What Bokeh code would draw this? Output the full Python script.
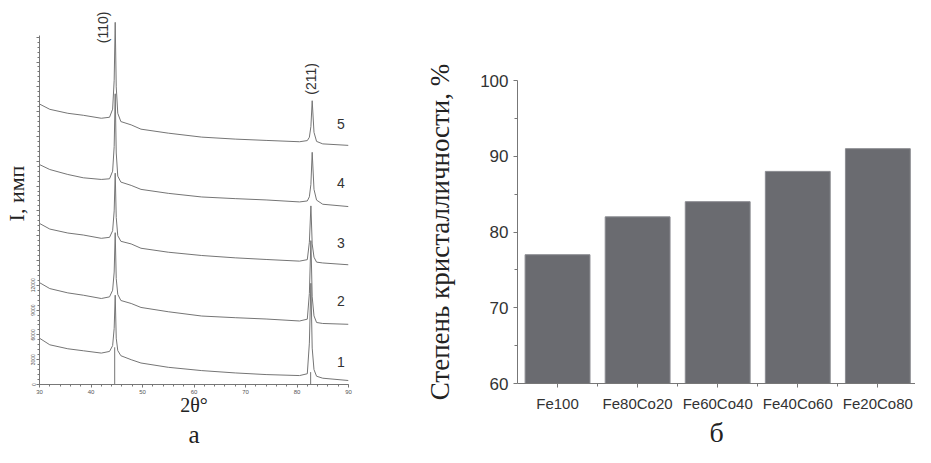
from bokeh.plotting import figure
from bokeh.layouts import row, column
from bokeh.models import Range1d, FixedTicker
from bokeh.core.properties import value
from bokeh.embed import file_html
from bokeh.resources import INLINE
import math

# ---------------- data: XRD patterns (panel а) ----------------
two_theta = [30, 32, 35.5, 38.5, 42, 43.6, 44.2, 44.5, 44.7, 44.9, 45.2, 45.8,
             47.8, 49.7, 55, 61.5, 68, 74, 80.5,
             82.0, 82.4, 82.7, 82.95, 83.3, 83.8, 85.0, 90]

curve_1 = [5600, 4800, 4320, 4080, 3800, 4000, 4700, 6800, 10800, 5600, 4100, 3480,
           3000, 2600, 2080, 1680, 1400, 1200, 1080,
           1300, 5000, 12240, 4400, 1800, 1000, 760, 480]
curve_2 = [12320, 11600, 11080, 10800, 10400, 10600, 11400, 13600, 18360, 12800, 10900, 10160,
           9800, 9320, 8800, 8280, 8080, 7920, 7680,
           7900, 11000, 17400, 10600, 8300, 7500, 7380, 7280]
curve_3 = [19480, 18800, 18320, 18080, 17680, 17800, 18600, 21000, 25560, 20200, 18000, 17320,
           17000, 16480, 16000, 15600, 15320, 15120, 14920,
           15100, 17200, 21600, 17000, 15400, 14800, 14700, 14480]
curve_4 = [26600, 26000, 25400, 25000, 24800, 24880, 25800, 28800, 35160, 28000, 25200, 24480,
           24080, 23600, 23120, 22680, 22480, 22320, 22080,
           22200, 22700, 24200, 28080, 23600, 22300, 21800, 21520]
curve_5 = [33920, 33280, 32800, 32560, 32200, 32320, 33300, 36800, 43800, 36000, 32800, 31800,
           31400, 30880, 30400, 29920, 29680, 29520, 29360,
           29500, 29900, 31200, 34320, 30500, 29400, 29100, 28920]
curves = [curve_1, curve_2, curve_3, curve_4, curve_5]

stick_x = [44.6, 82.65]
stick_top = [4500, 1500]

curve_names = ["1", "2", "3", "4", "5"]
curve_name_x = [88.5, 88.5, 88.5, 88.5, 88.5]
curve_name_y = [2760, 10080, 17160, 24360, 31560]

peak_names = ["(110)", "(211)"]
peak_name_x = [42.3, 82.7]
peak_name_y = [43200, 36960]

y_ticks = list(range(0, 42001, 3000))
y_minor = list(range(0, 42001, 600))
y_labelled_max = 12000

# ---------------- data: crystallinity (panel б) ----------------
alloys = ["Fe100", "Fe80Co20", "Fe60Co40", "Fe40Co60", "Fe20Co80"]
crystallinity = [77, 82, 84, 88, 91]

SERIF = "Liberation Serif"
SANS = "Liberation Sans"

# ---------------- panel а ----------------
p1 = figure(width=360, height=447, x_range=Range1d(30, 90), y_range=Range1d(0, 46200),
            output_backend="svg", toolbar_location=None,
            min_border_left=31, min_border_right=12, min_border_top=2, min_border_bottom=57,
            title="а", title_location="below")
p1.outline_line_color = None
p1.grid.visible = False
p1.title.align = "center"
p1.title.text_font = SERIF
p1.title.text_font_size = "25px"
p1.title.text_font_style = "normal"
p1.title.text_color = "#222222"
p1.title.standoff = 0

for c in curves:
    p1.line(two_theta, c, line_color="#757575", line_width=1)
p1.segment(x0=stick_x, y0=[0] * len(stick_x), x1=stick_x, y1=stick_top,
           line_color="#757575", line_width=1)

p1.text(x=curve_name_x, y=curve_name_y, text=curve_names, text_font=value(SANS),
        text_font_size="14px", text_color="#333333", text_align="center",
        text_baseline="middle")
p1.text(x=peak_name_x, y=peak_name_y, text=peak_names, text_font=value(SANS),
        text_font_size="14px", text_color="#333333", text_align="center",
        text_baseline="middle", angle=math.pi / 2)

xa = p1.xaxis[0]
xa.ticker = FixedTicker(ticks=list(range(30, 91, 10)), minor_ticks=list(range(30, 91, 2)))
xa.axis_label = "2θ°"
xa.axis_label_text_font = SERIF
xa.axis_label_text_font_size = "20px"
xa.axis_label_text_font_style = "normal"
xa.axis_label_text_color = "#222222"
xa.axis_label_standoff = -3
xa.major_label_text_font = SANS
xa.major_label_text_font_size = "6px"
xa.major_label_text_color = "#555555"
xa.major_label_standoff = 2
for ax in (p1.xaxis[0], p1.yaxis[0]):
    ax.axis_line_color = "#777777"
    ax.major_tick_line_color = "#777777"
    ax.minor_tick_line_color = "#777777"
    ax.major_tick_in = 0
    ax.major_tick_out = 3
    ax.minor_tick_in = 0
    ax.minor_tick_out = 2

ya = p1.yaxis[0]
ya.ticker = FixedTicker(ticks=y_ticks, minor_ticks=y_minor)
ya.major_label_overrides = {t: (str(t) if t <= y_labelled_max else "") for t in y_ticks}
ya.major_label_orientation = "vertical"
ya.major_label_text_font = SANS
ya.major_label_text_font_size = "5px"
ya.major_label_text_color = "#555555"
ya.major_label_standoff = 1
ya.bounds = (0, 42240)
ya.axis_label = "I, имп"
ya.axis_label_text_font = SERIF
ya.axis_label_text_font_size = "22px"
ya.axis_label_text_font_style = "normal"
ya.axis_label_text_color = "#222222"
ya.axis_label_standoff = 0

# ---------------- panel б ----------------
positions = list(range(1, len(alloys) + 1))
p2 = figure(width=555, height=447, x_range=Range1d(0.5, 5.47), y_range=Range1d(60, 100),
            output_backend="svg", toolbar_location=None,
            min_border_left=157, min_border_right=0, min_border_top=80, min_border_bottom=62,
            title="б", title_location="below")
p2.outline_line_color = None
p2.grid.visible = False
p2.title.align = "center"
p2.title.text_font = SERIF
p2.title.text_font_size = "28px"
p2.title.text_font_style = "normal"
p2.title.text_color = "#222222"
p2.title.standoff = 0

p2.vbar(x=positions, top=crystallinity, bottom=60, width=0.81,
        fill_color="#6a6b70", line_color="#8a8b90", line_width=1)

xb = p2.xaxis[0]
xb.ticker = FixedTicker(ticks=positions, minor_ticks=[p + 0.5 for p in positions[:-1]])
xb.major_label_overrides = {p: a for p, a in zip(positions, alloys)}
xb.major_label_text_font = SANS
xb.major_label_text_font_size = "15px"
xb.major_label_text_color = "#333333"
xb.major_label_standoff = 7

yb = p2.yaxis[0]
yb.ticker = FixedTicker(ticks=[60, 70, 80, 90, 100], minor_ticks=[65, 75, 85, 95])
yb.major_label_text_font = SANS
yb.major_label_text_font_size = "17px"
yb.major_label_text_color = "#333333"
yb.major_label_standoff = 5
yb.axis_label = "Степень кристалличности, %"
yb.axis_label_text_font = SERIF
yb.axis_label_text_font_size = "27px"
yb.axis_label_text_font_style = "normal"
yb.axis_label_text_color = "#222222"
yb.axis_label_standoff = 22
for ax in (xb, yb):
    ax.axis_line_color = "#777777"
    ax.major_tick_line_color = "#777777"
    ax.minor_tick_line_color = "#777777"
    ax.major_tick_in = 0
    ax.major_tick_out = 4
    ax.minor_tick_in = 0
    ax.minor_tick_out = 3

layout = row(column(p1), column(p2))
open("out.html", "w").write(file_html(layout, INLINE))
